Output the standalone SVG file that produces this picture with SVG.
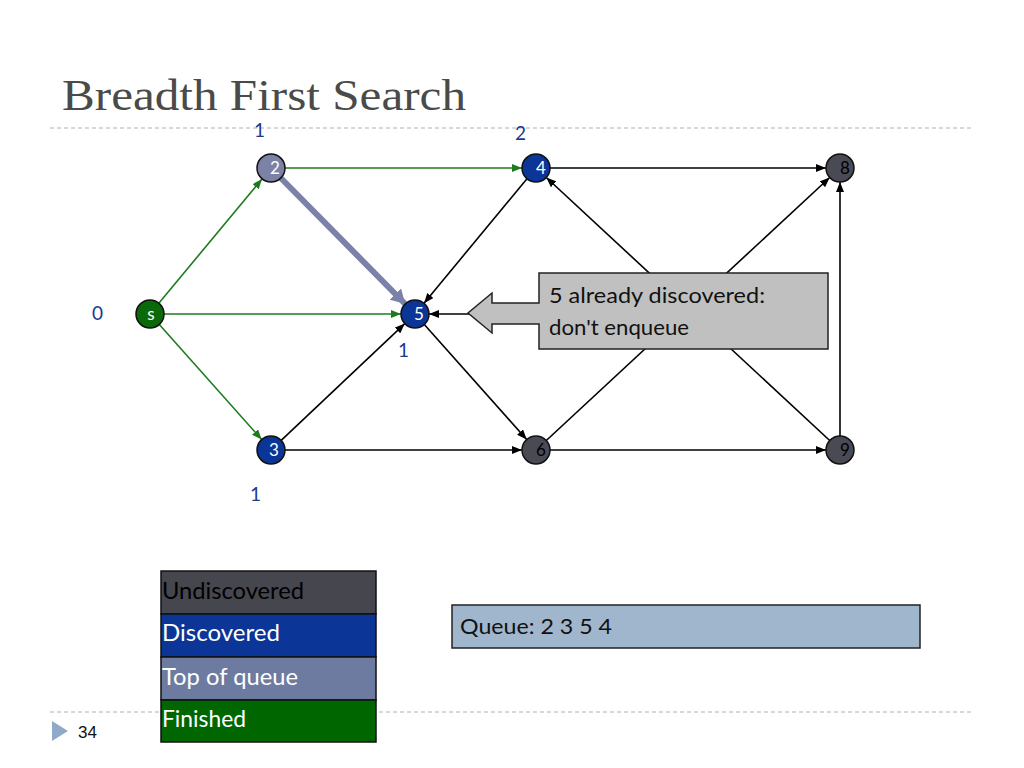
<svg xmlns="http://www.w3.org/2000/svg" width="1024" height="768" viewBox="0 0 1024 768">
<defs>
<style>
.e{stroke:#000;stroke-width:1.6;fill:none}
.g{stroke:#1E7A1E;stroke-width:1.6;fill:none}
.nd{stroke:#111;stroke-width:1.5}
.nt{font-family:Lato,"Open Sans",sans-serif;font-size:17px;text-anchor:middle}
.lbl{font-family:Lato,"Open Sans",sans-serif;font-size:19px;fill:#1A3A8F}
.leg{font-family:Lato,"Open Sans",sans-serif;font-size:23px}
</style>
<marker id="ab" markerUnits="userSpaceOnUse" markerWidth="10" markerHeight="8" refX="10" refY="4" orient="auto"><path d="M0,0 L10,4 L0,8 z" fill="#000"/></marker>
<marker id="ag" markerUnits="userSpaceOnUse" markerWidth="10" markerHeight="8" refX="10" refY="4" orient="auto"><path d="M0,0 L10,4 L0,8 z" fill="#1E7A1E"/></marker>
<marker id="at" markerUnits="userSpaceOnUse" markerWidth="16" markerHeight="16" refX="14" refY="8" orient="auto"><path d="M0,0 L14,8 L0,16 z" fill="#7A82AA"/></marker>
</defs>
<rect width="1024" height="768" fill="#fff"/>
<text x="62" y="110" font-family="'Liberation Serif',serif" font-size="45" fill="#4a4a4a" textLength="404" lengthAdjust="spacingAndGlyphs">Breadth First Search</text>
<line x1="50" y1="128" x2="972" y2="128" stroke="#b0b0b0" stroke-width="1" stroke-dasharray="4,3"/>
<line x1="50" y1="712" x2="972" y2="712" stroke="#b0b0b0" stroke-width="1" stroke-dasharray="4,3"/>

<g id="connectors">
<line class="g" x1="159" y1="303" x2="262" y2="179" marker-end="url(#ag)"/>
<line class="g" x1="164" y1="314" x2="401" y2="314" marker-end="url(#ag)"/>
<line class="g" x1="159.3" y1="324.5" x2="261.7" y2="439.5" marker-end="url(#ag)"/>
<line class="g" x1="285" y1="168" x2="522" y2="168" marker-end="url(#ag)"/>
<line x1="280.8" y1="178" x2="405.2" y2="304" stroke="#7A82AA" stroke-width="6" marker-end="url(#at)"/>
<line class="e" x1="527" y1="178.8" x2="424" y2="303.2" marker-end="url(#ab)"/>
<line class="e" x1="281.2" y1="440.4" x2="404.8" y2="323.6" marker-end="url(#ab)"/>
<line class="e" x1="424.3" y1="324.5" x2="526.7" y2="439.5" marker-end="url(#ab)"/>
<line class="e" x1="285" y1="450" x2="522" y2="450" marker-end="url(#ab)"/>
<line class="e" x1="550" y1="450" x2="826" y2="450" marker-end="url(#ab)"/>
<line class="e" x1="550" y1="168" x2="826" y2="168" marker-end="url(#ab)"/>
<line class="e" x1="840" y1="436" x2="840" y2="182" marker-end="url(#ab)"/>
<line class="e" x1="829.7" y1="440.5" x2="546.3" y2="177.5" marker-end="url(#ab)"/>
<line class="e" x1="546.3" y1="440.5" x2="829.7" y2="177.5" marker-end="url(#ab)"/>
<line class="e" x1="470" y1="314" x2="429" y2="314" marker-end="url(#ab)"/>
</g>

<g id="callout">
<path d="M539,273 H828 V349 H539 V324 H492 V333 L468,313 L492,293 V303 H539 Z" fill="#C0C0C0" stroke="#222" stroke-width="1.5"/>
<text x="549" y="303" font-family="Lato,'Open Sans',sans-serif" font-size="22" fill="#111" textLength="216" lengthAdjust="spacingAndGlyphs">5 already discovered:</text>
<text x="549" y="335" font-family="Lato,'Open Sans',sans-serif" font-size="22" fill="#111" textLength="140" lengthAdjust="spacingAndGlyphs">don't enqueue</text>
</g>

<g id="node-s"><circle class="nd" cx="150" cy="314" r="14" fill="#0A6A0A"/><text class="nt" x="151" y="320" fill="#fff" font-size="14">s</text></g>
<g id="node-2"><circle class="nd" cx="271" cy="168" r="14" fill="#7C82A6"/><text class="nt" x="275" y="174" fill="#fff">2</text></g>
<g id="node-4"><circle class="nd" cx="536" cy="168" r="14" fill="#0B3596"/><text class="nt" x="541" y="174" fill="#fff">4</text></g>
<g id="node-8"><circle class="nd" cx="840" cy="168" r="14" fill="#4A4A55"/><text class="nt" x="845" y="174" fill="#000">8</text></g>
<g id="node-5"><circle class="nd" cx="415" cy="314" r="14" fill="#0B3596"/><text class="nt" x="419" y="320" fill="#fff">5</text></g>
<g id="node-3"><circle class="nd" cx="271" cy="450" r="14" fill="#0B3596"/><text class="nt" x="274" y="456" fill="#fff">3</text></g>
<g id="node-6"><circle class="nd" cx="536" cy="450" r="14" fill="#4A4A55"/><text class="nt" x="541" y="456" fill="#000">6</text></g>
<g id="node-9"><circle class="nd" cx="840" cy="450" r="14" fill="#4A4A55"/><text class="nt" x="845" y="456" fill="#000">9</text></g>

<g id="distances">
<text class="lbl" x="254" y="137">1</text>
<text class="lbl" x="515" y="140">2</text>
<text class="lbl" x="92" y="320">0</text>
<text class="lbl" x="398" y="357">1</text>
<text class="lbl" x="250" y="501">1</text>
</g>

<g id="legend">
<rect x="161" y="571" width="215" height="43" fill="#46464F" stroke="#111" stroke-width="1.5"/>
<rect x="161" y="614" width="215" height="43" fill="#0B3596" stroke="#111" stroke-width="1.5"/>
<rect x="161" y="657" width="215" height="43" fill="#6E7BA0" stroke="#111" stroke-width="1.5"/>
<rect x="161" y="700" width="215" height="42" fill="#006600" stroke="#111" stroke-width="1.5"/>
<text class="leg" x="162" y="599" fill="#000" textLength="142" lengthAdjust="spacingAndGlyphs">Undiscovered</text>
<text class="leg" x="162" y="641" fill="#fff" textLength="118" lengthAdjust="spacingAndGlyphs">Discovered</text>
<text class="leg" x="162" y="685" fill="#fff" textLength="136" lengthAdjust="spacingAndGlyphs">Top of queue</text>
<text class="leg" x="162" y="727" fill="#fff" textLength="84" lengthAdjust="spacingAndGlyphs">Finished</text>
</g>

<g id="queue">
<rect x="452" y="605" width="468" height="43" fill="#A0B6CC" stroke="#222" stroke-width="1.5"/>
<text x="460" y="634" font-family="Lato,'Open Sans',sans-serif" font-size="21" fill="#111" textLength="152" lengthAdjust="spacingAndGlyphs">Queue: 2 3 5 4</text>
</g>

<path d="M52,721 L68,731 L52,741 Z" fill="#8FAAC8"/>
<text x="78" y="738" font-family="'Liberation Sans',sans-serif" font-size="17" fill="#111">34</text>
</svg>
